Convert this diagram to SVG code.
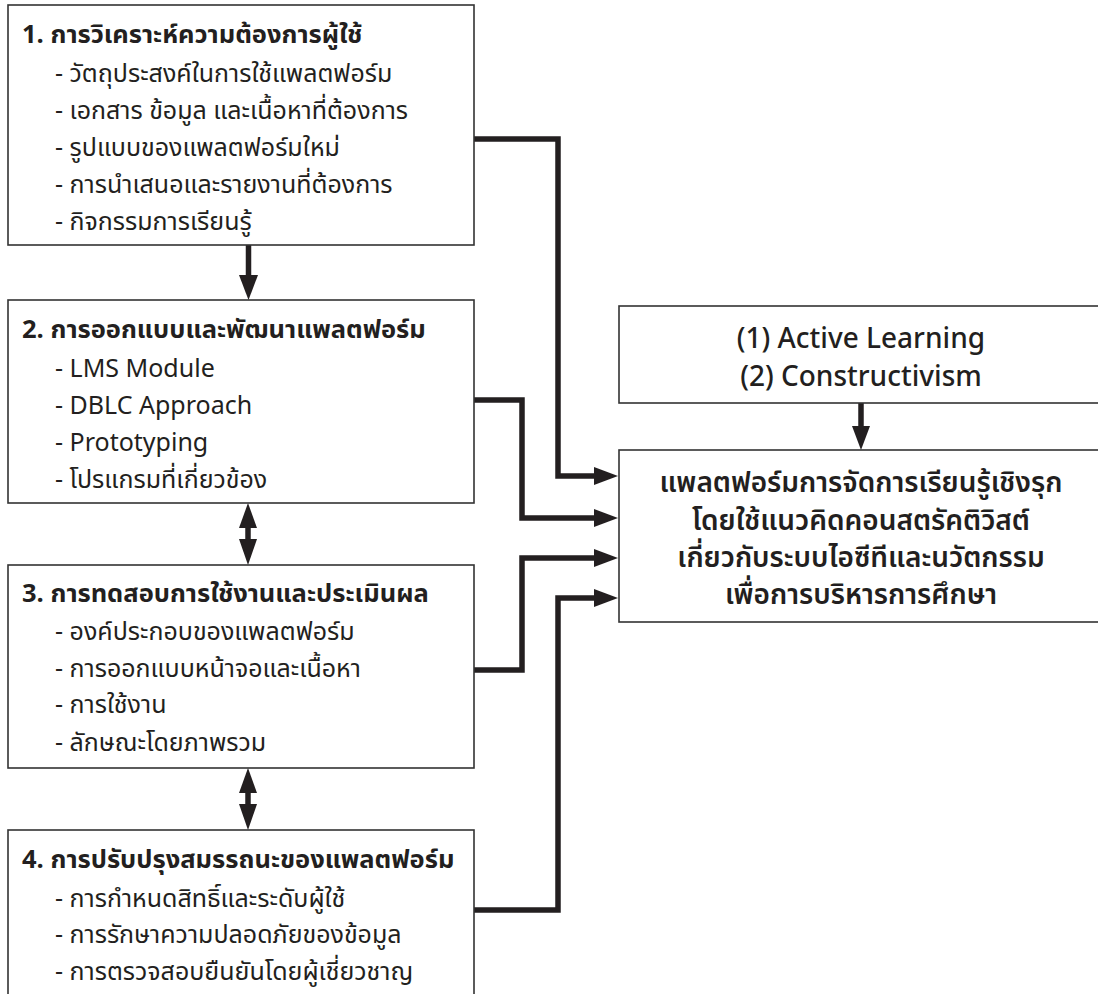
<svg xmlns="http://www.w3.org/2000/svg" width="1098" height="994" viewBox="0 0 1098 994">
<style>
text{font-family:"Noto Sans Thai","Noto Sans Thai UI","Noto Sans","Open Sans",sans-serif;fill:#231f20}
.box{fill:#fff;stroke:#333;stroke-width:1.6}
.t{font-size:25.5px;font-weight:700}
.i{font-size:25px;font-weight:400}
.c{font-size:28px;font-weight:500;text-anchor:middle}
.ct{font-size:28px;font-weight:600;text-anchor:middle}
.cn{fill:none;stroke:#231f20;stroke-width:5.5}
.ah{fill:#231f20}
</style>
<rect width="1098" height="994" fill="#fff"/>
<g id="connectors">
<path class="cn" d="M474,139 H558 V476 H596"/>
<path class="cn" d="M474,400 H522 V518 H596"/>
<path class="cn" d="M474,670 H522 V558 H596"/>
<path class="cn" d="M474,910 H558 V598 H596"/>
<polygon class="ah" points="594,467 618,476 594,485"/>
<polygon class="ah" points="594,509 618,518 594,527"/>
<polygon class="ah" points="594,549 618,558 594,567"/>
<polygon class="ah" points="594,589 618,598 594,607"/>
<path class="cn" d="M248.5,245 V277"/>
<polygon class="ah" points="239,275 258,275 248.5,300"/>
<path class="cn" d="M248,525 V542"/>
<polygon class="ah" points="239,528 257,528 248,503"/>
<polygon class="ah" points="239,539 257,539 248,565"/>
<path class="cn" d="M248,790 V807"/>
<polygon class="ah" points="239,793 257,793 248,768"/>
<polygon class="ah" points="239,804 257,804 248,830"/>
<path class="cn" d="M861,403 V428"/>
<polygon class="ah" points="852,426 870,426 861,450"/>
</g>
<g id="node1">
<rect class="box" x="8" y="5" width="466" height="240"/>
<text class="t" x="22" y="43">1. การวิเคราะห์ความต้องการผู้ใช้</text>
<text class="i" x="55" y="82">- วัตถุประสงค์ในการใช้แพลตฟอร์ม</text>
<text class="i" x="55" y="119">- เอกสาร ข้อมูล และเนื้อหาที่ต้องการ</text>
<text class="i" x="55" y="156">- รูปแบบของแพลตฟอร์มใหม่</text>
<text class="i" x="55" y="193">- การนำเสนอและรายงานที่ต้องการ</text>
<text class="i" x="55" y="230">- กิจกรรมการเรียนรู้</text>
</g>
<g id="node2">
<rect class="box" x="8" y="300" width="466" height="203"/>
<text class="t" x="22" y="338">2. การออกแบบและพัฒนาแพลตฟอร์ม</text>
<text class="i" x="55" y="377">- LMS Module</text>
<text class="i" x="55" y="414">- DBLC Approach</text>
<text class="i" x="55" y="451">- Prototyping</text>
<text class="i" x="55" y="488">- โปรแกรมที่เกี่ยวข้อง</text>
</g>
<g id="node3">
<rect class="box" x="8" y="565" width="466" height="203"/>
<text class="t" x="22" y="602">3. การทดสอบการใช้งานและประเมินผล</text>
<text class="i" x="55" y="640">- องค์ประกอบของแพลตฟอร์ม</text>
<text class="i" x="55" y="677">- การออกแบบหน้าจอและเนื้อหา</text>
<text class="i" x="55" y="713">- การใช้งาน</text>
<text class="i" x="55" y="751">- ลักษณะโดยภาพรวม</text>
</g>
<g id="node4">
<rect class="box" x="8" y="830" width="466" height="180"/>
<text class="t" x="22" y="868">4. การปรับปรุงสมรรถนะของแพลตฟอร์ม</text>
<text class="i" x="55" y="907">- การกำหนดสิทธิ์และระดับผู้ใช้</text>
<text class="i" x="55" y="943">- การรักษาความปลอดภัยของข้อมูล</text>
<text class="i" x="55" y="980">- การตรวจสอบยืนยันโดยผู้เชี่ยวชาญ</text>
</g>
<g id="node5">
<rect class="box" x="619" y="306" width="490" height="97"/>
<text class="c" x="861" y="348">(1) Active Learning</text>
<text class="c" x="861" y="386">(2) Constructivism</text>
</g>
<g id="node6">
<rect class="box" x="619" y="450" width="490" height="172"/>
<text class="ct" x="861" y="492">แพลตฟอร์มการจัดการเรียนรู้เชิงรุก</text>
<text class="ct" x="861" y="530">โดยใช้แนวคิดคอนสตรัคติวิสต์</text>
<text class="ct" x="861" y="567">เกี่ยวกับระบบไอซีทีและนวัตกรรม</text>
<text class="ct" x="861" y="604">เพื่อการบริหารการศึกษา</text>
</g>
</svg>
